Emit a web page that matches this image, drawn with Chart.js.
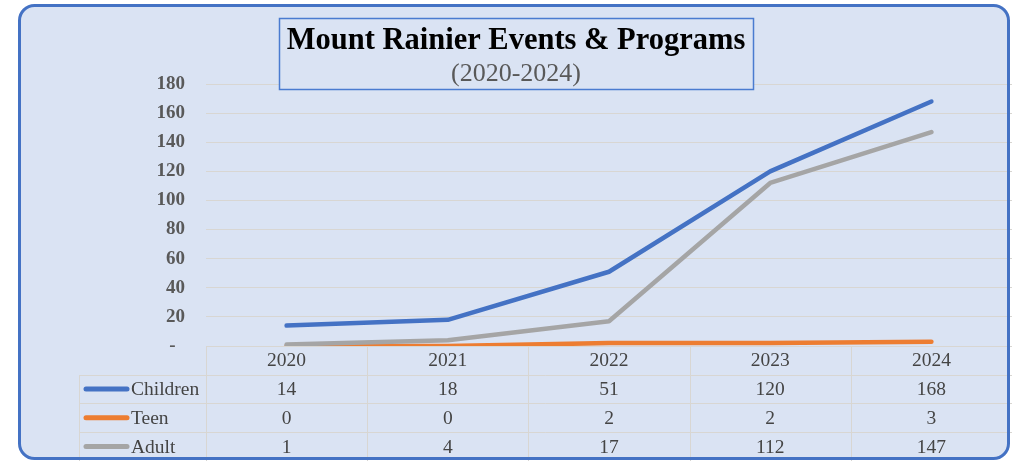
<!DOCTYPE html>
<html><head><meta charset="utf-8">
<script src="https://cdn.jsdelivr.net/npm/chart.js@4.4.1/dist/chart.umd.min.js"></script>
<style>html,body{margin:0;padding:0;background:#fff;}#wrap{width:1012px;height:461px;position:relative;}</style>
</head><body><div id="wrap"><canvas id="c"></canvas></div>
<script>
const categories = ['2020', '2021', '2022', '2023', '2024'];
const children = [14, 18, 51, 120, 168];
const teen = [0, 0, 2, 2, 3];
const adult = [1, 4, 17, 112, 147];
const seriesNames = ['Children', 'Teen', 'Adult'];
const seriesValues = [children, teen, adult];
const seriesColors = ['#4472c4', '#ed7d31', '#a5a5a5'];
const yMin = 0, yMax = 180, yStep = 20;
const titleText = 'Mount Rainier Events & Programs';
const subtitleText = '(2020-2024)';

const BG = '#dae3f3';
const GRID = '#d8d6d2';
const TEXT = '#595959';
const TABLE_TEXT = '#444444';
const FONT = "'Liberation Serif', 'Times New Roman', serif";

function rr(ctx, x, y, w, h, r) {
  ctx.beginPath();
  ctx.moveTo(x + r, y);
  ctx.lineTo(x + w - r, y); ctx.arcTo(x + w, y, x + w, y + r, r);
  ctx.lineTo(x + w, y + h - r); ctx.arcTo(x + w, y + h, x + w - r, y + h, r);
  ctx.lineTo(x + r, y + h); ctx.arcTo(x, y + h, x, y + h - r, r);
  ctx.lineTo(x, y + r); ctx.arcTo(x, y, x + r, y, r);
  ctx.closePath();
}

const deco = {
  id: 'deco',
  beforeDraw(chart) {
    const ctx = chart.ctx;
    ctx.save();
    ctx.fillStyle = '#fff';
    ctx.fillRect(0, 0, chart.width, chart.height);
    rr(ctx, 19.5, 5.5, 989, 453, 15);
    ctx.fillStyle = BG;
    ctx.fill();
    ctx.restore();
  },
  beforeDatasetsDraw(chart) {
    const ctx = chart.ctx;
    const xs = chart.scales.x;
    const area = chart.chartArea;
    const band = xs.getPixelForValue(1) - xs.getPixelForValue(0);
    const top = area.bottom;
    const rowH = 28.7;
    const legLeft = 79.5;
    ctx.save();
    ctx.strokeStyle = GRID;
    ctx.lineWidth = 1;
    ctx.beginPath();
    ctx.moveTo(area.left, Math.round(top) + 0.5); ctx.lineTo(chart.width, Math.round(top) + 0.5);
    for (let r = 1; r <= 4; r++) {
      const y = Math.round(top + r * rowH) + 0.5;
      ctx.moveTo(legLeft, y); ctx.lineTo(chart.width, y);
    }
    ctx.moveTo(legLeft, Math.round(top + rowH)); ctx.lineTo(legLeft, chart.height);
    for (let i = 0; i <= categories.length; i++) {
      const x = Math.round(xs.getPixelForValue(0) - band / 2 + i * band) + 0.5;
      ctx.moveTo(x, top); ctx.lineTo(x, chart.height);
    }
    ctx.stroke();

    ctx.fillStyle = TABLE_TEXT;
    ctx.font = '19.5px ' + FONT;
    ctx.textAlign = 'center';
    ctx.textBaseline = 'middle';
    categories.forEach((c, i) => ctx.fillText(c, xs.getPixelForValue(i), top + rowH / 2 + 1));
    seriesValues.forEach((vals, s) => {
      const cy = top + rowH * (s + 1.5) + 1;
      vals.forEach((v, i) => ctx.fillText(String(v), xs.getPixelForValue(i), cy));
    });
    ctx.textAlign = 'left';
    seriesNames.forEach((n, s) => {
      const cy = top + rowH * (s + 1.5);
      ctx.strokeStyle = seriesColors[s];
      ctx.lineWidth = 5;
      ctx.lineCap = 'round';
      ctx.beginPath(); ctx.moveTo(86, cy); ctx.lineTo(127, cy); ctx.stroke();
      ctx.fillStyle = TABLE_TEXT;
      ctx.fillText(n, 131, cy + 1);
    });
    ctx.restore();
  },
  afterDraw(chart) {
    const ctx = chart.ctx;
    ctx.save();
    ctx.fillStyle = BG;
    ctx.fillRect(279.5, 18.5, 474, 71);
    ctx.strokeStyle = '#4a7bd0';
    ctx.lineWidth = 1.5;
    ctx.strokeRect(279.5, 18.5, 474, 71);
    ctx.textAlign = 'center';
    ctx.textBaseline = 'middle';
    ctx.fillStyle = '#000';
    ctx.font = 'bold 30.5px ' + FONT;
    ctx.fillText(titleText, 516, 41);
    ctx.fillStyle = TEXT;
    ctx.font = '26px ' + FONT;
    ctx.fillText(subtitleText, 516, 74);
    rr(ctx, 19.5, 5.5, 989, 453, 15);
    ctx.strokeStyle = '#4472c4';
    ctx.lineWidth = 3;
    ctx.stroke();
    ctx.restore();
  }
};

new Chart(document.getElementById('c'), {
  type: 'line',
  data: {
    labels: categories,
    datasets: seriesNames.map((n, s) => ({
      label: n,
      data: seriesValues[s],
      borderColor: seriesColors[s],
      backgroundColor: seriesColors[s],
      borderWidth: 4.5,
      borderCapStyle: 'round',
      borderJoinStyle: 'round',
      pointRadius: 0,
      tension: 0,
      fill: false
    })).reverse()
  },
  options: {
    responsive: true,
    maintainAspectRatio: false,
    devicePixelRatio: 1,
    animation: false,
    layout: { padding: { left: 0, right: 0, top: 84, bottom: 115 } },
    plugins: { legend: { display: false }, title: { display: false }, tooltip: { enabled: false } },
    scales: {
      x: { type: 'category', display: false, offset: true },
      y: {
        min: yMin, max: yMax,
        border: { display: false },
        grid: { color: GRID, drawTicks: false, lineWidth: 1 },
        afterFit(s) { s.width = 206; },
        ticks: {
          stepSize: yStep,
          padding: 21,
          color: TEXT,
          font: { family: FONT, size: 19, weight: 'bold' },
          callback: v => v === 0 ? '-  ' : String(v)
        }
      }
    }
  },
  plugins: [deco]
});
</script></body></html>
